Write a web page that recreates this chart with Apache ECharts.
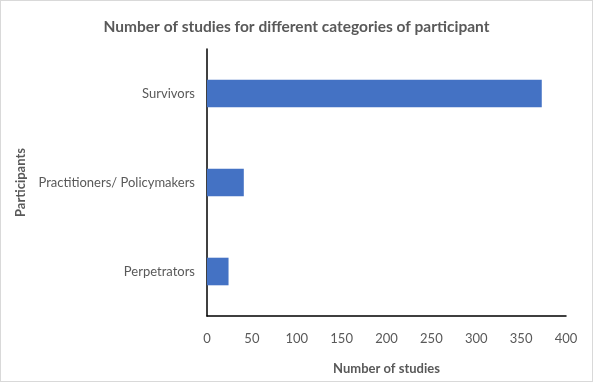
<!DOCTYPE html>
<html>
<head>
<meta charset="utf-8">
<script src="https://cdn.jsdelivr.net/npm/echarts@6/dist/echarts.min.js"></script>
<style>
  html, body { margin: 0; padding: 0; background: #fff; }
  #chart { width: 591px; height: 380px; border: 1px solid #d9d9d9; }
</style>
</head>
<body>
<div id="chart"></div>
<script>
// categories from bottom to top, as echarts draws a category y axis
var participants = ['Perpetrators', 'Practitioners/ Policymakers', 'Survivors'];
var studyCounts = [24, 41, 373];
var xTicks = [0, 50, 100, 150, 200, 250, 300, 350, 400];

var chart = echarts.init(document.getElementById('chart'));
var font = 'Lato, "Open Sans", sans-serif';

chart.setOption({
    animation: false,
    title: {
        text: 'Number of studies for different categories of participant',
        left: 'center',
        top: 13,
        textStyle: { fontFamily: font, fontSize: 15.5, fontWeight: 'bold', color: '#595959' }
    },
    grid: { left: 206, right: 26, top: 48, bottom: 65 },
    xAxis: {
        type: 'value',
        min: xTicks[0],
        max: xTicks[xTicks.length - 1],
        interval: 50,
        name: 'Number of studies',
        nameLocation: 'middle',
        nameGap: 46,
        nameTextStyle: { fontFamily: font, fontSize: 13, fontWeight: 'bold', color: '#595959' },
        axisLine: { show: true, lineStyle: { color: '#000', width: 1.5 } },
        axisTick: { show: false },
        splitLine: { show: false },
        axisLabel: { fontFamily: font, fontSize: 13, color: '#595959', margin: 16 }
    },
    yAxis: {
        type: 'category',
        data: participants,
        name: 'Participants',
        nameLocation: 'middle',
        nameGap: 178,
        nameTextStyle: { fontFamily: font, fontSize: 13, fontWeight: 'bold', color: '#595959' },
        axisLine: { show: true, lineStyle: { color: '#000', width: 1.5 } },
        axisTick: { show: false },
        axisLabel: { fontFamily: font, fontSize: 13, color: '#595959', margin: 12 }
    },
    series: [{
        type: 'bar',
        data: studyCounts,
        barCategoryGap: '69%',
        itemStyle: { color: '#4472C4' }
    }]
});
</script>
</body>
</html>
